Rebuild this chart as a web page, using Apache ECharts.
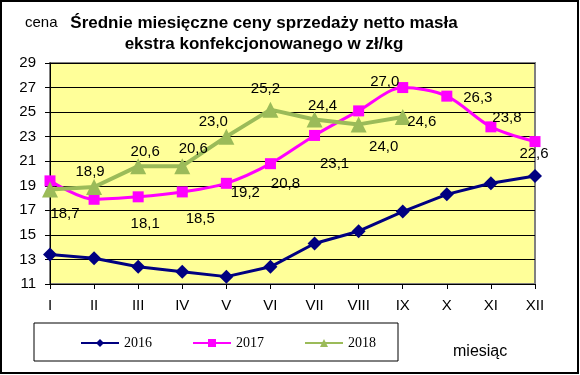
<!DOCTYPE html>
<html><head><meta charset="utf-8">
<script src="https://cdn.jsdelivr.net/npm/echarts@6/dist/echarts.min.js"></script>
<style>html,body{margin:0;padding:0;background:#fff}#c{width:580px;height:375px}</style>
</head><body><div id="c"></div>
<script>
const months = ['I','II','III','IV','V','VI','VII','VIII','IX','X','XI','XII'];
const y2016 = [13.4, 13.1, 12.4, 12.0, 11.6, 12.4, 14.3, 15.3, 16.9, 18.3, 19.2, 19.8];
const y2017 = [19.4, 17.9, 18.1, 18.5, 19.2, 20.8, 23.1, 25.1, 27.0, 26.3, 23.8, 22.6];
const y2018 = [18.7, 18.9, 20.6, 20.6, 23.0, 25.2, 24.4, 24.0, 24.6];
// label offsets (px) per point; null = no label
const off2017 = [null, null, [7,27], [18,27], [19,10], [15,20], [20,28], null, [-18,-6], [31,2], [16,-9], [-1,12]];
const off2018 = [[15,24], [-4,-15], [7,-14], [11,-17], [-13,-15], [-5,-21], [8,-14], [25,22], [19,5]];

function fmt(v){ return v.toFixed(1).replace('.', ','); }
function build(vals, offs){
  return vals.map((v,i)=>{
    const o = offs[i];
    if(!o) return {value:v, label:{show:false}};
    return {value:v, label:{show:true, position:'inside', offset:o, formatter:fmt(v)}};
  });
}
const lblStyle = {color:'#000', fontFamily:'Arial, Liberation Sans', fontSize:15};

const chart = echarts.init(document.getElementById('c'), null, {renderer:'canvas'});
chart.setOption({
  animation:false,
  backgroundColor:'#fff',
  textStyle:{fontFamily:'Arial, Liberation Sans'},
  graphic:[
    {type:'rect', shape:{x:1,y:1,width:577,height:372}, style:{fill:'none', stroke:'#000', lineWidth:2}, z:-1},
    {type:'rect', shape:{x:50,y:63,width:485,height:221}, style:{fill:'#FFFF99', stroke:'#808080', lineWidth:2}, z:-1},
    {type:'rect', shape:{x:34,y:323,width:364,height:38}, style:{fill:'none', stroke:'#000', lineWidth:1}},
    {type:'text', left:25, top:15, style:{text:'cena', font:'15px Arial, Liberation Sans', fill:'#000'}},
    {type:'text', left:453, top:344, style:{text:'miesiąc', font:'16px Arial, Liberation Sans', fill:'#000'}},
    {type:'text', x:264, y:13, style:{text:'Średnie miesięczne ceny sprzedaży netto masła\nekstra konfekcjonowanego w zł/kg', font:'bold 17px Arial, Liberation Sans', fill:'#000', align:'center', lineHeight:21}}
  ],
  grid:{left:50, right:45, top:63, bottom:91, containLabel:false},
  legend:{left:75, top:331, itemWidth:38, itemHeight:10, itemGap:40,
    textStyle:{fontFamily:'Liberation Serif, Times New Roman', fontSize:14, color:'#000'},
    data:['2016','2017','2018']},
  xAxis:{type:'category', data:months, boundaryGap:false,
    axisLine:{lineStyle:{color:'#000', width:1}},
    axisTick:{show:true, alignWithLabel:true, length:5, lineStyle:{color:'#000'}},
    axisLabel:{color:'#000', fontSize:15, margin:14, fontFamily:'Arial, Liberation Sans'},
    splitLine:{show:false}},
  yAxis:{type:'value', min:11, max:29, interval:2,
    axisLine:{show:true, lineStyle:{color:'#000'}},
    axisTick:{show:true, length:5, lineStyle:{color:'#000'}},
    axisLabel:{color:'#000', fontSize:15, margin:14, fontFamily:'Arial, Liberation Sans'},
    splitLine:{lineStyle:{color:'#000', width:1}}},
  series:[
    {name:'2016', type:'line', data:y2016, color:'#000080', symbol:'diamond', symbolSize:14,
      lineStyle:{width:3}, label:{show:false}},
    {name:'2017', type:'line', data:build(y2017, off2017), color:'#FF00FF', symbol:'rect', symbolSize:11,
      lineStyle:{width:3}, smooth:0.3, label:lblStyle},
    {name:'2018', type:'line', data:build(y2018, off2018), color:'#9BBB59', symbol:'triangle', symbolSize:16,
      lineStyle:{width:4}, label:lblStyle}
  ]
});
</script></body></html>
